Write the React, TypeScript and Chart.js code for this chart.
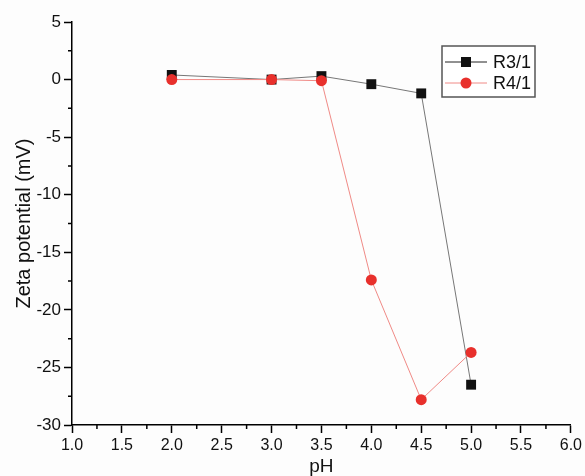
import React, { useEffect, useRef } from "react";
import { Chart, registerables } from "chart.js";

Chart.register(...registerables);

const phValues = [2.0, 3.0, 3.5, 4.0, 4.5, 5.0];
const r31Values = [0.4, 0.0, 0.3, -0.4, -1.2, -26.5];
const r41Values = [0.0, 0.0, -0.1, -17.4, -27.8, -23.7];
const xMinorTicks = [1.25, 1.75, 2.25, 2.75, 3.25, 3.75, 4.25, 4.75, 5.25, 5.75];
const yMinorTicks = [2.5, -2.5, -7.5, -12.5, -17.5, -22.5, -27.5];
const seriesNames = ["R3/1", "R4/1"];

const FONT = "'Liberation Sans', Arial, sans-serif";
const RED = "#e8302c";
const RED_LINE = "#f08a86";
const BLACK = "#111111";
const BLACK_LINE = "#777777";

const minorTickPlugin = {
  id: "minorTicks",
  afterDraw(chart: any) {
    const ctx = chart.ctx;
    const xs = chart.scales.x;
    const ys = chart.scales.y;
    const area = chart.chartArea;
    ctx.save();
    ctx.strokeStyle = "#000";
    ctx.lineWidth = 1.5;
    ctx.beginPath();
    xMinorTicks.forEach((v) => {
      const px = xs.getPixelForValue(v);
      ctx.moveTo(px, area.bottom);
      ctx.lineTo(px, area.bottom + 4);
    });
    yMinorTicks.forEach((v) => {
      const py = ys.getPixelForValue(v);
      ctx.moveTo(area.left, py);
      ctx.lineTo(area.left - 4, py);
    });
    ctx.stroke();
    ctx.restore();
  },
};

const legendPlugin = {
  id: "boxLegend",
  afterDraw(chart: any) {
    const ctx = chart.ctx;
    const left = 442;
    const top = 46;
    const w = 93;
    const h = 51;
    ctx.save();
    ctx.fillStyle = "#ffffff";
    ctx.fillRect(left, top, w, h);
    ctx.strokeStyle = "#555555";
    ctx.lineWidth = 1.5;
    ctx.strokeRect(left, top, w, h);
    const rows = [
      { name: seriesNames[0], line: "#222222", fill: BLACK, style: "rect", y: top + 16 },
      { name: seriesNames[1], line: RED_LINE, fill: RED, style: "circle", y: top + 37 },
    ];
    rows.forEach((r) => {
      ctx.strokeStyle = r.line;
      ctx.lineWidth = 1;
      ctx.beginPath();
      ctx.moveTo(left + 3, r.y);
      ctx.lineTo(left + 45, r.y);
      ctx.stroke();
      ctx.fillStyle = r.fill;
      if (r.style === "rect") {
        ctx.fillRect(left + 24 - 5, r.y - 5, 10, 10);
      } else {
        ctx.beginPath();
        ctx.arc(left + 24, r.y, 5.5, 0, Math.PI * 2);
        ctx.fill();
      }
      ctx.fillStyle = "#111";
      ctx.font = `18px ${FONT}`;
      ctx.textBaseline = "middle";
      ctx.textAlign = "left";
      ctx.fillText(r.name, left + 51, r.y + 1);
    });
    ctx.restore();
  },
};

const bgPlugin = {
  id: "bg",
  beforeDraw(chart: any) {
    const ctx = chart.ctx;
    ctx.save();
    ctx.fillStyle = "#fdfdfd";
    ctx.fillRect(0, 0, chart.width, chart.height);
    ctx.restore();
  },
};

export default function App() {
  const ref = useRef<HTMLCanvasElement | null>(null);

  useEffect(() => {
    document.body.style.margin = "0";
    if (!ref.current) return;
    const chart = new Chart(ref.current, {
      type: "line",
      data: {
        datasets: [
          {
            label: seriesNames[0],
            data: phValues.map((x, i) => ({ x, y: r31Values[i] })),
            borderColor: BLACK_LINE,
            borderWidth: 1,
            backgroundColor: BLACK,
            pointBackgroundColor: BLACK,
            pointBorderColor: BLACK,
            pointStyle: "rect",
            pointRadius: 7,
            pointBorderWidth: 0,
            tension: 0,
            order: 1,
          },
          {
            label: seriesNames[1],
            data: phValues.map((x, i) => ({ x, y: r41Values[i] })),
            borderColor: RED_LINE,
            borderWidth: 1,
            backgroundColor: RED,
            pointBackgroundColor: RED,
            pointBorderColor: RED,
            pointStyle: "circle",
            pointRadius: 5.5,
            pointBorderWidth: 0,
            tension: 0,
            order: 0,
          },
        ],
      },
      options: {
        animation: false,
        responsive: false,
        layout: { padding: { top: 22, right: 14, left: 0, bottom: 0 } },
        plugins: {
          legend: { display: false },
          tooltip: { enabled: false },
        },
        scales: {
          x: {
            type: "linear",
            min: 1,
            max: 6,
            afterFit: (s: any) => {
              s.height = 51;
            },
            border: { display: true, color: "#000", width: 1.5 },
            grid: {
              drawOnChartArea: false,
              drawTicks: true,
              tickLength: 8,
              tickColor: "#000",
              tickWidth: 1.5,
            },
            ticks: {
              stepSize: 0.5,
              color: "#111",
              padding: 3,
              font: { family: FONT, size: 16 },
              callback: (v: any) => Number(v).toFixed(1),
            },
            title: {
              display: true,
              text: "pH",
              color: "#111",
              font: { family: FONT, size: 19 },
              padding: { top: 0, bottom: -2 },
            },
          },
          y: {
            type: "linear",
            min: -30,
            max: 5,
            afterFit: (s: any) => {
              s.width = 72;
            },
            border: { display: true, color: "#000", width: 1.5 },
            grid: {
              drawOnChartArea: false,
              drawTicks: true,
              tickLength: 8,
              tickColor: "#000",
              tickWidth: 1.5,
            },
            ticks: {
              stepSize: 5,
              color: "#111",
              padding: 3,
              font: { family: FONT, size: 17 },
            },
            title: {
              display: true,
              text: "Zeta potential (mV)",
              color: "#111",
              font: { family: FONT, size: 20 },
              padding: { top: 12, bottom: 0 },
            },
          },
        },
      },
      plugins: [bgPlugin, minorTickPlugin, legendPlugin],
    } as any);
    return () => chart.destroy();
  }, []);

  return (
    <div style={{ width: 585, height: 476 }}>
      <canvas ref={ref} width={585} height={476} style={{ display: "block" }} />
    </div>
  );
}
